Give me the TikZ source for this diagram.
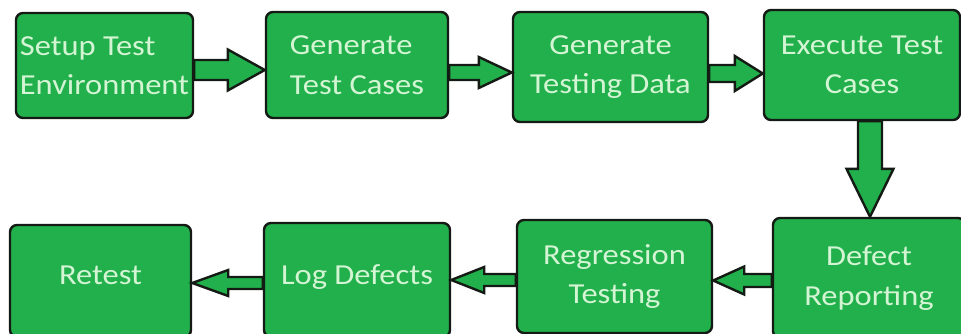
\documentclass[tikz,border=0pt]{standalone}
\usepackage{fontspec}
\setmainfont{Carlito}[FakeStretch=1.12]
\usetikzlibrary{calc}
\definecolor{boxgreen}{HTML}{22B04C}
\definecolor{txtgreen}{HTML}{D4F5D4}
\definecolor{edge}{HTML}{141A14}
\tikzset{
  stepbox/.style={draw=edge, line width=2.4pt, fill=boxgreen, rounded corners=7pt,
    inner sep=0pt, text=txtgreen, font=\fontsize{29}{39.5}\selectfont},
  arrowbody/.style={draw=edge, line width=2.4pt, fill=boxgreen, line join=miter}
}
\newcommand\blockarrow[5]{%
  \path (#2) coordinate (BAt) ($(#2)!#5!(#1)$) coordinate (BAh);
  \draw[arrowbody] ($(#1)!#3!90:(#2)$) -- ($(BAh)!#3!-90:(#1)$) -- ($(BAh)!#4!-90:(#1)$)
    -- (BAt) -- ($(BAh)!#4!90:(#1)$) -- ($(BAh)!#3!90:(#1)$) -- ($(#1)!#3!-90:(#2)$) -- cycle;}
\begin{document}
\begin{tikzpicture}[x=1pt,y=-1pt]
\useasboundingbox (0,0) rectangle (961,334);
\clip (0,0) rectangle (961,334);
\fill[white] (0,0) rectangle (961,334);
% top row
\node[stepbox, minimum width=177pt, minimum height=105pt, align=left] (b1) at (104.5,65.5) {Setup Test\\Environment};
\node[stepbox, minimum width=182pt, minimum height=106pt, align=left] (b2) at (357,65) {Generate\\Test Cases};
\node[stepbox, minimum width=195pt, minimum height=110pt, align=center] (b3) at (610.5,67) {Generate\\Testing Data};
\node[stepbox, minimum width=196pt, minimum height=110pt, align=center] (b4) at (862,65) {Execute Test\\Cases};
% bottom row
\node[stepbox, minimum width=181pt, minimum height=112pt, align=center] (r1) at (100.5,281) {\raisebox{11pt}{Retest}};
\node[stepbox, minimum width=186pt, minimum height=114pt, align=center] (r2) at (357,280) {\raisebox{11pt}{Log Defects}};
\node[stepbox, minimum width=195pt, minimum height=113pt, align=center] (r3) at (614.5,276.5) {Regression\\Testing};
\node[stepbox, minimum width=192pt, minimum height=120pt, align=center] (r4) at (869,278) {Defect\\Reporting};
% connector ends
\coordinate (s12) at ($(b1.east)+(0,4.5)$);
\coordinate (t12) at (b2.west |- s12);
\coordinate (s23) at ($(b2.east)+(0,7.5)$);
\coordinate (t23) at (b3.west |- s23);
\coordinate (s34) at ($(b3.east)+(0,6.5)$);
\coordinate (t34) at (b4.west |- s34);
\coordinate (s4d) at ($(b4.south)+(8,0)$);
\coordinate (t4d) at (r4.north -| s4d);
\coordinate (sd3) at ($(r4.west)+(0,2.5)$);
\coordinate (td3) at (r3.east |- sd3);
\coordinate (s32) at ($(r3.west)+(0,3.5)$);
\coordinate (t32) at (r2.east |- s32);
\coordinate (s21) at ($(r2.west)+(0,3)$);
\coordinate (t21) at (r1.east |- s21);
% connectors
\blockarrow{s12}{t12}{10pt}{20.5pt}{37pt}
\blockarrow{s23}{t23}{7.5pt}{15.5pt}{33pt}
\blockarrow{s34}{t34}{8.5pt}{17.5pt}{28pt}
\blockarrow{s4d}{t4d}{12pt}{23.5pt}{48pt}
\blockarrow{sd3}{td3}{6.5pt}{14pt}{31pt}
\blockarrow{s32}{t32}{6pt}{13pt}{33pt}
\blockarrow{s21}{t21}{6pt}{13pt}{36pt}
\end{tikzpicture}
\end{document}
